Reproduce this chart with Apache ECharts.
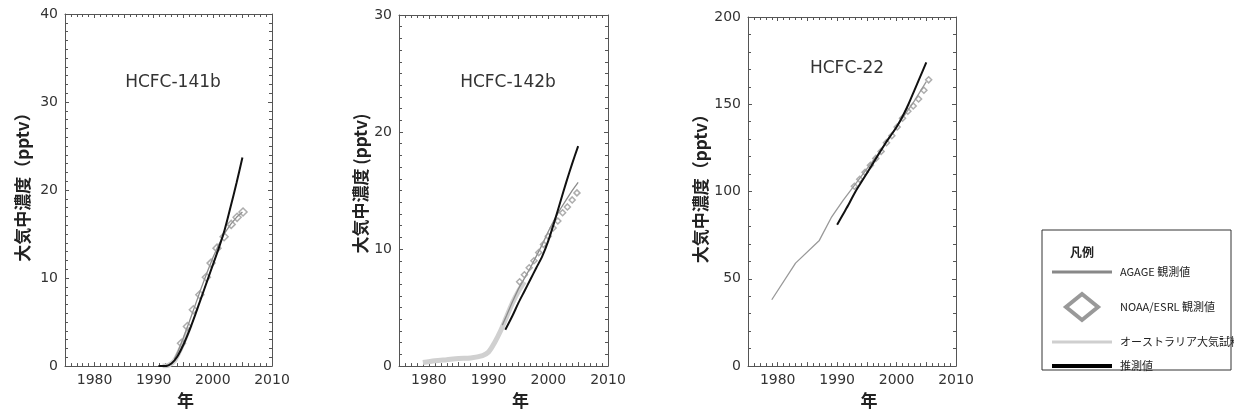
<!DOCTYPE html>
<html>
<head>
<meta charset="utf-8">
<script src="https://cdn.jsdelivr.net/npm/echarts@6/dist/echarts.min.js"></script>
<style>
  html, body { margin: 0; padding: 0; background: #fff; }
  #main { width: 1234px; height: 414px; }
</style>
</head>
<body>
<div id="main"></div>
<script>
// HCFC-141b
let est141bYears = [1990.8, 1992, 1993, 1994, 1995, 1996, 1997, 1998, 1999, 2000, 2001, 2002, 2003, 2004, 2005]
let est141b = [0, 0, 0.3, 1.1, 2.4, 4.0, 5.8, 7.7, 9.6, 11.5, 13.4, 15.5, 18.1, 20.8, 23.7]
let agage141bYears = [1993.5, 1994, 1995, 1996, 1997, 1998, 1999, 2000, 2001, 2002, 2003, 2004, 2005]
let agage141b = [0.8, 1.5, 3.2, 5.0, 6.9, 8.8, 10.6, 12.3, 13.8, 15.1, 16.1, 16.9, 17.5]
let noaa141bYears = [1994.7, 1995.7, 1996.7, 1997.8, 1998.9, 1999.7, 2000.7, 2001.9, 2003.1, 2004.1, 2005.1]
let noaa141b = [2.6, 4.5, 6.4, 8.1, 10.1, 11.7, 13.4, 14.7, 16.1, 16.9, 17.5]
let aus141bYears = [1991.5, 1992.5, 1993.5, 1994.5, 1995.5, 1996]
let aus141b = [0, 0.1, 0.6, 1.9, 3.5, 4.4]

// HCFC-142b
let est142bYears = [1992.8, 1994, 1995, 1996, 1997, 1998, 1999, 2000, 2001, 2002, 2003, 2004, 2005]
let est142b = [3.1, 4.3, 5.4, 6.4, 7.4, 8.4, 9.4, 10.7, 12.3, 14.0, 15.7, 17.3, 18.8]
let agage142bYears = [1992.3, 1993, 1994, 1995, 1996, 1997, 1998, 1999, 2000, 2001, 2002, 2003, 2004, 2005]
let agage142b = [3.5, 4.3, 5.5, 6.6, 7.5, 8.4, 9.4, 10.4, 11.5, 12.5, 13.4, 14.2, 15.0, 15.7]
let noaa142bYears = [1995.2, 1996, 1996.8, 1997.6, 1998.4, 1999.2, 2000, 2000.8, 2001.6, 2002.4, 2003.2, 2004, 2004.8]
let noaa142b = [7.2, 7.8, 8.4, 9.0, 9.7, 10.4, 11.1, 11.8, 12.4, 13.1, 13.6, 14.2, 14.8]
let aus142bYears = [1979, 1981, 1983, 1985, 1987, 1989, 1990, 1991, 1992, 1993, 1994, 1995, 1996]
let aus142b = [0.3, 0.45, 0.55, 0.65, 0.7, 0.9, 1.2, 2.0, 3.0, 4.2, 5.4, 6.4, 7.2]

// HCFC-22
let est22Years = [1990, 1991, 1992, 1993, 1994, 1995, 1996, 1997, 1998, 1999, 2000, 2001, 2002, 2003, 2004, 2005]
let est22 = [81, 87, 93, 99.5, 105, 110.5, 116, 121.5, 127, 132, 137, 143, 150, 158, 166, 174]
let agage22Years = [1979, 1983, 1987, 1989, 1991, 1993, 1995, 1997, 1999, 2001, 2003, 2005]
let agage22 = [38, 59, 72, 85, 95, 104, 113, 122, 132, 142, 152, 163]
let noaa22Years = [1992.9, 1993.8, 1994.7, 1995.6, 1996.5, 1997.4, 1998.3, 1999.2, 2000.1, 2001, 2001.9, 2002.8, 2003.7, 2004.6, 2005.4]
let noaa22 = [103, 107, 111, 115, 119, 123, 128, 132, 137, 142, 146, 149, 153, 158, 164]

let titles = ['HCFC-141b', 'HCFC-142b', 'HCFC-22']
let yMax = [40, 30, 200]
let yStep = [10, 10, 50]
let yMinorSplit = [10, 10, 5]
let yName = ['大気中濃度（pptv）', '大気中濃度 (pptv)', '大気中濃度（pptv）']

let zip = function (xs, ys) {
  return xs.map((x, i) => [x, ys[i]])
}

let grids = [
  { left: 65, top: 14, width: 207, height: 362 },
  { left: 399, top: 15, width: 209, height: 366 },
  { left: 748, top: 17, width: 208, height: 365 }
]
let titlePos = [[173, 74], [508, 74], [847, 60]]
let yNameGap = [34, 30, 39]

let axisColor = '#555'
let labelStyle = { color: '#333', fontSize: 14, fontFamily: 'DejaVu Sans' }

let xAxes = []
let yAxes = []
for (let pos of ['bottom', 'top']) {
  for (let i = 0; i < 3; i++) {
    xAxes.push({
      type: 'value', gridIndex: i, position: pos, min: 1975, max: 2010, interval: 5,
      splitLine: { show: false },
      axisLine: { onZero: false, lineStyle: { color: axisColor, width: 1 } },
      axisTick: { inside: true, length: 4, lineStyle: { color: axisColor } },
      minorTick: { show: true, splitNumber: 5, length: 3, lineStyle: { color: axisColor } },
      axisLabel: pos == 'bottom' ? Object.assign({
        margin: 7,
        showMinLabel: false,
        formatter: v => (v % 10 == 0 ? String(v) : '')
      }, labelStyle) : { show: false },
      name: pos == 'bottom' ? '年' : '',
      nameLocation: 'middle',
      nameGap: 19,
      nameTextStyle: { fontSize: 17, fontWeight: 'bold', color: '#222', fontFamily: 'Noto Sans CJK JP', padding: [0, 0, 0, 34] }
    })
  }
}
for (let pos of ['left', 'right']) {
  for (let i = 0; i < 3; i++) {
    yAxes.push({
      type: 'value', gridIndex: i, position: pos, min: 0, max: yMax[i], interval: yStep[i],
      splitLine: { show: false },
      axisLine: { show: true, onZero: false, lineStyle: { color: axisColor, width: 1 } },
      axisTick: { show: true, inside: true, length: 4, lineStyle: { color: axisColor } },
      minorTick: { show: true, splitNumber: yMinorSplit[i], length: 3, lineStyle: { color: axisColor } },
      axisLabel: pos == 'left' ? Object.assign({ margin: 7 }, labelStyle) : { show: false },
      name: pos == 'left' ? yName[i] : '',
      nameLocation: 'middle',
      nameGap: yNameGap[i],
      nameTextStyle: { fontSize: 17, fontWeight: 'bold', color: '#222', fontFamily: 'Noto Sans CJK JP', padding: [0, 0, 0, 14] }
    })
  }
}

let lineSeries = function (name, idx, data, color, width, z, smooth) {
  return {
    name: name, type: 'line', xAxisIndex: idx, yAxisIndex: idx, data: data,
    showSymbol: false, smooth: smooth, z: z,
    lineStyle: { color: color, width: width }
  }
}
let noaaSeries = function (idx, data, size) {
  return {
    name: 'NOAA/ESRL 観測値', type: 'scatter', xAxisIndex: idx, yAxisIndex: idx, data: data,
    symbol: 'diamond', symbolSize: size, z: 4,
    itemStyle: { color: 'rgba(255,255,255,0)', borderColor: '#999', borderWidth: 1.5 }
  }
}

let series = [
  lineSeries('オーストラリア大気試料', 0, zip(aus141bYears, aus141b), '#d0d0d0', 5, 2, 0.3),
  lineSeries('AGAGE 観測値', 0, zip(agage141bYears, agage141b), '#8c8c8c', 1.3, 3, false),
  noaaSeries(0, zip(noaa141bYears, noaa141b), 8),
  lineSeries('推測値', 0, zip(est141bYears, est141b), '#111', 2, 5, 0.3),

  lineSeries('オーストラリア大気試料', 1, zip(aus142bYears, aus142b), '#d0d0d0', 5, 2, 0.3),
  lineSeries('AGAGE 観測値', 1, zip(agage142bYears, agage142b), '#8c8c8c', 1.3, 3, false),
  noaaSeries(1, zip(noaa142bYears, noaa142b), 6),
  lineSeries('推測値', 1, zip(est142bYears, est142b), '#111', 2, 5, 0.3),

  lineSeries('AGAGE 観測値', 2, zip(agage22Years, agage22), '#999', 1.3, 3, false),
  noaaSeries(2, zip(noaa22Years, noaa22), 6),
  lineSeries('推測値', 2, zip(est22Years, est22), '#111', 2, 5, 0.3)
]

// 凡例
let legendX1 = 1052, legendX2 = 1112, legendTextX = 1120
let legendRows = [272, 307, 342, 366]
let legendText = { fontSize: 11, fill: '#222', fontFamily: 'Noto Sans CJK JP', verticalAlign: 'middle' }
let legendGraphic = [
  { type: 'rect', shape: { x: 1042, y: 230, width: 189, height: 140 }, style: { fill: '#fff', stroke: '#333', lineWidth: 1 } },
  { type: 'text', x: 1070, y: 252, style: Object.assign({}, legendText, { text: '凡例', fontSize: 12, fontWeight: 'bold' }) },
  { type: 'line', shape: { x1: legendX1, y1: legendRows[0], x2: legendX2, y2: legendRows[0] }, style: { stroke: '#888', lineWidth: 3 } },
  { type: 'text', x: legendTextX, y: legendRows[0], style: Object.assign({}, legendText, { text: 'AGAGE 観測値' }) },
  { type: 'polygon', shape: { points: [[1082, legendRows[1] - 13], [1098, legendRows[1]], [1082, legendRows[1] + 13], [1066, legendRows[1]]] }, style: { fill: 'none', stroke: '#999', lineWidth: 4 } },
  { type: 'text', x: legendTextX, y: legendRows[1], style: Object.assign({}, legendText, { text: 'NOAA/ESRL 観測値' }) },
  { type: 'line', shape: { x1: legendX1, y1: legendRows[2], x2: legendX2, y2: legendRows[2] }, style: { stroke: '#cfcfcf', lineWidth: 3 } },
  { type: 'text', x: legendTextX, y: legendRows[2], style: Object.assign({}, legendText, { text: 'オーストラリア大気試料' }) },
  { type: 'line', shape: { x1: legendX1, y1: legendRows[3], x2: legendX2, y2: legendRows[3] }, style: { stroke: '#000', lineWidth: 4 } },
  { type: 'text', x: legendTextX, y: legendRows[3], style: Object.assign({}, legendText, { text: '推測値' }) }
]

let chart = echarts.init(document.getElementById('main'))
chart.setOption({
  animation: false,
  backgroundColor: '#fff',
  title: titles.map((t, i) => ({
    text: t, left: titlePos[i][0], top: titlePos[i][1], textAlign: 'center', padding: 0,
    textStyle: { fontSize: 17, fontWeight: 'normal', color: '#333', fontFamily: 'DejaVu Sans' }
  })),
  grid: grids,
  xAxis: xAxes,
  yAxis: yAxes,
  series: series,
  graphic: legendGraphic
})
</script>
</body>
</html>
